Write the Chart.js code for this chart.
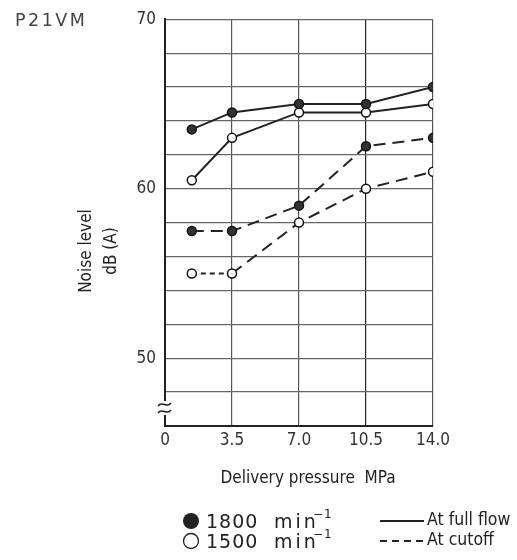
<!DOCTYPE html>
<html>
<head>
<meta charset="utf-8">
<script src="https://cdn.jsdelivr.net/npm/chart.js@4/dist/chart.umd.min.js"></script>
<style>
  body { margin: 0; background: #fff; }
  #wrap { position: relative; width: 517px; height: 560px; }
</style>
</head>
<body>
<div id="wrap"><canvas id="chart" width="517" height="560"></canvas></div>
<script>
"use strict"

// pressure points where the noise was measured (MPa)
var arrPressure = [1.4, 3.5, 7.0, 10.5, 14.0];

// noise level dB (A)
var arrFull1800 = [63.5, 64.5, 65.0, 65.0, 66.0];
var arrFull1500 = [60.5, 63.0, 64.5, 64.5, 65.0];
var arrCut1800 = [57.5, 57.5, 59.0, 62.5, 63.0];
var arrCut1500 = [55.0, 55.0, 58.0, 60.0, 61.0];

// tick labels
var arrXTicks = [0, 3.5, 7.0, 10.5, 14.0];
var arrXTickLabels = ["0", "3.5", "7.0", "10.5", "14.0"];
var arrYTickLabels = [50, 60, 70];

var NARROW = '"Liberation Sans Narrow", "DejaVu Sans Condensed", sans-serif';
var WIDE = '"DejaVu Sans", sans-serif';
var INK = "#222";

function points(arrY){
    return arrPressure.map(function(x, i){ return {x: x, y: arrY[i]}; });
}

function series(strLabel, arrY, boolFilled, arrDash){
    return {
        label: strLabel,
        data: points(arrY),
        borderColor: INK,
        borderWidth: 2,
        borderDash: arrDash,
        pointRadius: 4.5,
        pointHoverRadius: 4.5,
        pointBorderWidth: 1.5,
        pointBorderColor: "#111",
        pointBackgroundColor: boolFilled ? "#333" : "#fff",
        tension: 0
    };
}

var dsCut1500 = series("1500 cutoff", arrCut1500, false, [12, 7]);
// the first piece of this line is drawn with a finer dash
dsCut1500.segment = {
    borderDash: function(ctx){ return ctx.p0DataIndex === 0 ? [5, 4] : undefined; }
};

// titles, axis break and the legend are drawn by hand
var decorPlugin = {
    id: "decor",
    afterDraw: function(chart){
        var ctx = chart.ctx;
        var area = chart.chartArea;
        ctx.save();

        // break mark on the y axis
        ctx.fillStyle = "#fff";
        ctx.fillRect(area.left - 4, 401, 8, 14);
        ctx.strokeStyle = INK;
        ctx.lineWidth = 1.4;
        [404, 411].forEach(function(y){
            ctx.beginPath();
            ctx.moveTo(area.left - 7, y + 2);
            ctx.bezierCurveTo(area.left - 3, y - 4, area.left + 2, y + 5, area.left + 6, y - 1);
            ctx.stroke();
        });

        // model name
        ctx.fillStyle = "#444";
        ctx.font = "17.5px " + WIDE;
        ctx.letterSpacing = "2.5px";
        ctx.textAlign = "left";
        ctx.textBaseline = "alphabetic";
        ctx.fillText("P21VM", 15, 26);
        ctx.letterSpacing = "0px";

        // y axis title
        ctx.fillStyle = INK;
        ctx.font = "17px " + NARROW;
        ctx.textAlign = "center";
        ctx.textBaseline = "middle";
        ctx.save();
        ctx.translate(87, 251);
        ctx.rotate(-Math.PI / 2);
        ctx.fillText("Noise level", 0, 0);
        ctx.fillText("dB (A)", 0, 25);
        ctx.restore();

        // x axis title
        ctx.fillText("Delivery pressure  MPa", 308, 479);

        // legend: speeds
        ctx.lineWidth = 1.3;
        ctx.beginPath();
        ctx.arc(191, 521, 8, 0, Math.PI * 2);
        ctx.fill();
        ctx.beginPath();
        ctx.arc(191, 541, 7.5, 0, Math.PI * 2);
        ctx.stroke();

        ctx.textAlign = "left";
        ctx.textBaseline = "alphabetic";
        ctx.font = "19px " + WIDE;
        ctx.letterSpacing = "1px";
        [["1800", 528], ["1500", 548]].forEach(function(row){
            ctx.fillText(row[0], 206, row[1]);
            ctx.letterSpacing = "3px";
            ctx.fillText("min", 274, row[1]);
            ctx.letterSpacing = "1px";
            ctx.font = "12px " + WIDE;
            ctx.fillText("\u22121", 313, row[1] - 10);
            ctx.font = "19px " + WIDE;
        });
        ctx.letterSpacing = "0px";

        // legend: line styles
        ctx.lineWidth = 2;
        ctx.beginPath();
        ctx.moveTo(380, 521);
        ctx.lineTo(424, 521);
        ctx.stroke();
        ctx.setLineDash([7, 5]);
        ctx.beginPath();
        ctx.moveTo(380, 541);
        ctx.lineTo(424, 541);
        ctx.stroke();
        ctx.setLineDash([]);

        ctx.font = "17.5px " + NARROW;
        ctx.textBaseline = "middle";
        ctx.fillText("At full flow", 427, 520);
        ctx.fillText("At cutoff", 427, 540);

        ctx.restore();
    }
};

new Chart("chart", {
    type: "line",
    data: {
        datasets: [
            series("1800 full flow", arrFull1800, true, []),
            series("1500 full flow", arrFull1500, false, []),
            series("1800 cutoff", arrCut1800, true, [12, 7]),
            dsCut1500
        ]
    },
    plugins: [decorPlugin],
    options: {
        responsive: false,
        animation: false,
        layout: { padding: { left: 0, right: 84, top: 17, bottom: 0 } },
        plugins: {
            legend: { display: false },
            tooltip: { enabled: false }
        },
        scales: {
            x: {
                type: "linear",
                min: 0,
                max: 14,
                afterBuildTicks: function(scale){
                    scale.ticks = arrXTicks.map(function(v){ return {value: v}; });
                },
                afterFit: function(scale){ scale.height = 134; },
                ticks: {
                    padding: 4,
                    color: "#333",
                    font: { family: NARROW, size: 17 },
                    callback: function(v){
                        var i = arrXTicks.indexOf(v);
                        return i >= 0 ? arrXTickLabels[i] : "";
                    }
                },
                grid: {
                    color: function(c){ return c.tick && c.tick.value === 10.5 ? "#222" : "#555"; },
                    lineWidth: 1.2,
                    drawTicks: false
                },
                border: { color: INK, width: 2 }
            },
            y: {
                min: 46,
                max: 70,
                afterFit: function(scale){ scale.width = 165; },
                ticks: {
                    stepSize: 2,
                    padding: 9,
                    color: "#333",
                    font: { family: NARROW, size: 17 },
                    callback: function(v){
                        return arrYTickLabels.indexOf(v) >= 0 ? String(v) : "";
                    }
                },
                grid: { color: "#666", lineWidth: 1.2, drawTicks: false },
                border: { color: INK, width: 2 }
            }
        }
    }
});
</script>
</body>
</html>
